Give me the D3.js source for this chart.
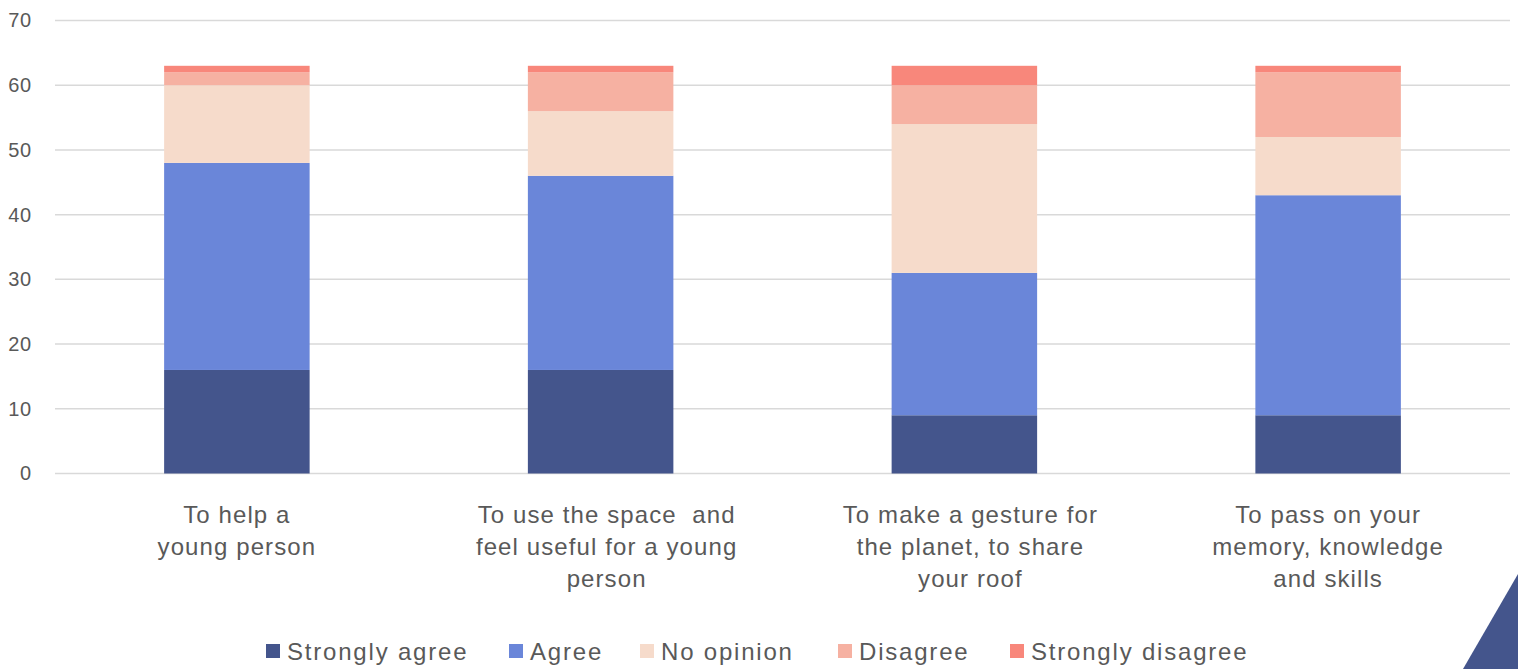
<!DOCTYPE html>
<html>
<head>
<meta charset="utf-8">
<script src="https://cdn.jsdelivr.net/npm/d3@7"></script>
<style>
  html, body { margin: 0; padding: 0; background: #fff; }
  svg { display: block; }
</style>
</head>
<body>
<svg id="chart" width="1518" height="669"></svg>
<script>
// Reasons for hosting a young person, answers stacked per reason
const categories = [
  ["To help a", "young person"],
  ["To use the space  and", "feel useful for a young", "person"],
  ["To make a gesture for", "the planet, to share", "your roof"],
  ["To pass on your", "memory, knowledge", "and skills"]
];
const seriesNames = ["Strongly agree", "Agree", "No opinion", "Disagree", "Strongly disagree"];
const stronglyAgree    = [16, 16, 9, 9];
const agree            = [32, 30, 22, 34];
const noOpinion        = [12, 10, 23, 9];
const disagree         = [2, 6, 6, 10];
const stronglyDisagree = [1, 1, 3, 1];
const yTicks = [0, 10, 20, 30, 40, 50, 60, 70];

const colors = ["#44558C", "#6A86D9", "#F6DBCB", "#F6B1A2", "#F8877B"];

const seriesValues = [stronglyAgree, agree, noOpinion, disagree, stronglyDisagree];
const rows = categories.map((c, i) => {
  const r = { idx: i };
  seriesNames.forEach((s, k) => { r[s] = seriesValues[k][i]; });
  return r;
});

const svg = d3.select("#chart");
const plotLeft = 55, plotRight = 1510, plotTop = 20.5, plotBottom = 473.5;

const x = d3.scaleBand()
  .domain(d3.range(categories.length))
  .range([plotLeft, plotRight])
  .paddingInner(0.6)
  .paddingOuter(0.3);
const y = d3.scaleLinear().domain([0, 70]).range([plotBottom, plotTop]);

const font = "'Liberation Sans', Arial, sans-serif";
const textColor = "#595959";

// gridlines
svg.append("g")
  .selectAll("line")
  .data(yTicks)
  .join("line")
  .attr("x1", plotLeft).attr("x2", plotRight)
  .attr("y1", d => y(d)).attr("y2", d => y(d))
  .attr("stroke", "#D9D9D9")
  .attr("stroke-width", 1.5);

// y axis labels
const yAxis = d3.axisLeft(y).tickValues(yTicks).tickSize(0).tickPadding(0);
const yg = svg.append("g").attr("transform", `translate(32,0)`).call(yAxis);
yg.select(".domain").remove();
yg.selectAll("text")
  .attr("fill", textColor)
  .style("font-family", font)
  .style("font-size", "20px")
  .style("letter-spacing", "0.8px");

// stacked bars
const stack = d3.stack().keys(seriesNames)(rows);
svg.append("g")
  .selectAll("g")
  .data(stack)
  .join("g")
  .attr("fill", (d, i) => colors[i])
  .selectAll("rect")
  .data(d => d)
  .join("rect")
  .attr("x", d => x(d.data.idx))
  .attr("width", x.bandwidth())
  .attr("y", d => y(d[1]))
  .attr("height", d => y(d[0]) - y(d[1]));

// category labels (the wrapped middle labels sit slightly right of their bars)
const labelNudge = [0, 6, 6, 0];
const catG = svg.append("g");
categories.forEach((lines, i) => {
  const cx = x(i) + x.bandwidth() / 2 + labelNudge[i];
  const t = catG.append("text")
    .attr("text-anchor", "middle")
    .attr("fill", textColor)
    .style("font-family", font)
    .style("font-size", "24px")
    .style("letter-spacing", "1.1px")
    .style("white-space", "pre");
  lines.forEach((ln, j) => {
    t.append("tspan")
      .attr("x", cx)
      .attr("y", 523 + j * 32)
      .text(ln);
  });
});

// legend
const legendX = [266, 509, 640, 838, 1010];
const lg = svg.append("g");
seriesNames.forEach((s, i) => {
  lg.append("rect")
    .attr("x", legendX[i]).attr("y", 644)
    .attr("width", 14).attr("height", 14)
    .attr("fill", colors[i]);
  lg.append("text")
    .attr("x", legendX[i] + 21).attr("y", 660)
    .attr("fill", textColor)
    .style("font-family", font)
    .style("font-size", "24px")
    .style("letter-spacing", "1.8px")
    .text(s);
});

// corner accent
svg.append("path")
  .attr("d", "M1463,669 L1518,574 L1518,669 Z")
  .attr("fill", "#44558C");
</script>
</body>
</html>
